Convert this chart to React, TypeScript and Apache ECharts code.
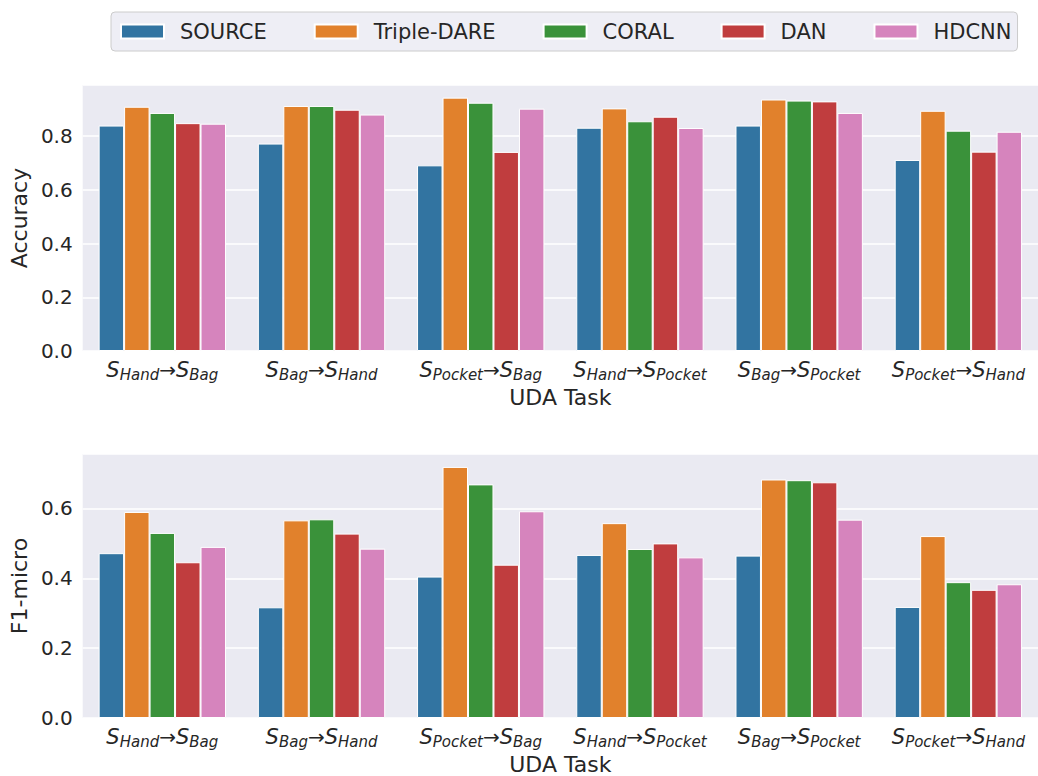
import React, { useEffect, useRef } from "react";
import * as echarts from "echarts";

// UDA tasks: source domain -> target domain
const tasks = [
  ["Hand", "Bag"],
  ["Bag", "Hand"],
  ["Pocket", "Bag"],
  ["Hand", "Pocket"],
  ["Bag", "Pocket"],
  ["Pocket", "Hand"],
];
const taskKeys = tasks.map((t) => t.join("|"));

const methods = ["SOURCE", "Triple-DARE", "CORAL", "DAN", "HDCNN"];
const colors = ["#3274a1", "#e1812c", "#3a923a", "#c03d3e", "#d684bd"];

// Accuracy per method, one value per task
const accSource = [0.839, 0.772, 0.691, 0.831, 0.839, 0.711];
const accTripleDare = [0.909, 0.912, 0.943, 0.903, 0.936, 0.894];
const accCoral = [0.886, 0.912, 0.924, 0.855, 0.932, 0.82];
const accDan = [0.848, 0.898, 0.741, 0.872, 0.929, 0.742];
const accHdcnn = [0.846, 0.88, 0.902, 0.83, 0.886, 0.816];

// F1-micro per method, one value per task
const f1Source = [0.472, 0.317, 0.405, 0.467, 0.465, 0.318];
const f1TripleDare = [0.59, 0.566, 0.719, 0.558, 0.683, 0.521];
const f1Coral = [0.53, 0.569, 0.669, 0.484, 0.681, 0.389];
const f1Dan = [0.446, 0.528, 0.439, 0.5, 0.675, 0.367];
const f1Hdcnn = [0.49, 0.485, 0.592, 0.46, 0.568, 0.383];

const accuracy = [accSource, accTripleDare, accCoral, accDan, accHdcnn];
const f1micro = [f1Source, f1TripleDare, f1Coral, f1Dan, f1Hdcnn];

const yTicks = { interval: 0.2 };

const TEXT = "#262626";
const FONT = "DejaVu Sans";

function taskLabel(key: string) {
  const [a, b] = key.split("|");
  return `{s|S}{sub|${a}}{arr|→}{s|S}{sub|${b}}`;
}

const richLabel = {
  s: { fontFamily: FONT, fontStyle: "italic", fontSize: 21, color: TEXT, lineHeight: 26 },
  sub: {
    fontFamily: FONT,
    fontStyle: "italic",
    fontSize: 15,
    color: TEXT,
    lineHeight: 17,
    padding: [9, 0, 0, 0],
  },
  arr: { fontFamily: FONT, fontSize: 20, color: TEXT, lineHeight: 26 },
};

function xAxisFor(gridIndex: number) {
  return {
    type: "category",
    gridIndex,
    data: taskKeys,
    name: "UDA Task",
    nameLocation: "middle",
    nameGap: 35,
    nameTextStyle: { fontFamily: FONT, fontSize: 22, color: TEXT },
    axisLine: { show: false },
    axisTick: { show: false },
    splitLine: { show: false },
    axisLabel: {
      interval: 0,
      hideOverlap: false,
      margin: 6,
      formatter: (v: string) => taskLabel(v),
      rich: richLabel,
    },
  };
}

function yAxisFor(gridIndex: number, name: string, max: number) {
  return {
    type: "value",
    gridIndex,
    min: 0,
    max,
    interval: yTicks.interval,
    name,
    nameLocation: "middle",
    nameGap: 49,
    nameTextStyle: { fontFamily: FONT, fontSize: 22, color: TEXT },
    axisLine: { show: false },
    axisTick: { show: false },
    axisLabel: {
      showMaxLabel: false,
      margin: 10,
      fontFamily: FONT,
      fontSize: 20,
      color: TEXT,
      formatter: (v: number) => v.toFixed(1),
    },
    splitLine: { show: true, lineStyle: { color: "#ffffff", width: 1.5 } },
  };
}

export default function App() {
  const ref = useRef<HTMLDivElement>(null);

  useEffect(() => {
    if (!ref.current) return;
    const chart = echarts.init(ref.current, undefined, { renderer: "svg" });

    const series: any[] = [];
    [accuracy, f1micro].forEach((block, gi) => {
      block.forEach((vals, mi) => {
        series.push({
          type: "bar",
          name: methods[mi],
          xAxisIndex: gi,
          yAxisIndex: gi,
          data: vals,
          barGap: "0%",
          barCategoryGap: "20%",
          itemStyle: { color: colors[mi], borderColor: "#ffffff", borderWidth: 1 },
          emphasis: { disabled: true },
        });
      });
    });

    chart.setOption({
      animation: false,
      color: colors,
      textStyle: { fontFamily: FONT, color: TEXT },
      legend: {
        data: methods,
        left: 111,
        top: 12,
        icon: "rect",
        itemWidth: 43,
        itemHeight: 14,
        itemGap: 47,
        padding: [9, 6, 9, 9],
        backgroundColor: "rgba(234,234,242,0.8)",
        borderColor: "#cccccc",
        borderWidth: 1,
        borderRadius: 4,
        textStyle: {
          fontFamily: FONT,
          fontSize: 21,
          color: TEXT,
          padding: [0, 0, 0, 11],
        },
      },
      grid: [
        {
          left: 82,
          top: 85,
          width: 964,
          height: 266,
          show: true,
          backgroundColor: "#eaeaf2",
          borderWidth: 0,
        },
        {
          left: 82,
          top: 454,
          width: 964,
          height: 266,
          show: true,
          backgroundColor: "#eaeaf2",
          borderWidth: 0,
        },
      ],
      xAxis: [xAxisFor(0), xAxisFor(1)],
      yAxis: [yAxisFor(0, "Accuracy", 0.99), yAxisFor(1, "F1-micro", 0.756)],
      series,
    });

    return () => chart.dispose();
  }, []);

  return (
    <div
      ref={ref}
      style={{ position: "fixed", left: 0, top: 0, width: 1038, height: 776, background: "#ffffff" }}
    />
  );
}
